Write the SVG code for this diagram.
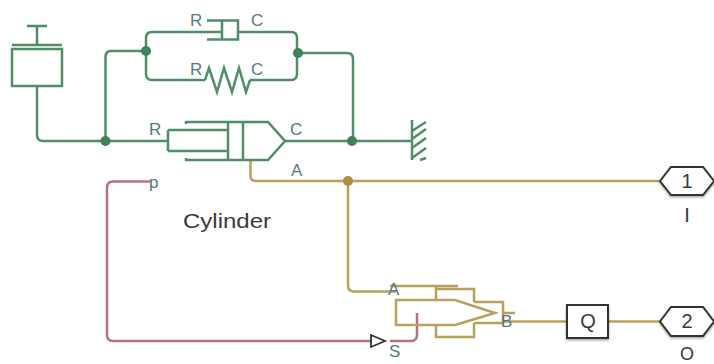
<svg xmlns="http://www.w3.org/2000/svg" width="714" height="364" viewBox="0 0 714 364">
<defs><filter id="s" x="-20%" y="-20%" width="140%" height="150%"><feDropShadow dx="0" dy="1.500" stdDeviation="1.200" flood-color="#000" flood-opacity="0.350"/></filter></defs>
<style>
text{font-family:"Liberation Sans",Arial,sans-serif}
.m{fill:none;stroke:#4f8f68;stroke-width:2.500}
.g{fill:none;stroke:#b9a05c;stroke-width:2.500}
.p{fill:none;stroke:#b5747f;stroke-width:2.500}
.k{fill:#fff;stroke:#333;stroke-width:2;filter:url(#s)}
.l{font-size:17px;fill:#5a7880}
.t{font-size:20px;fill:#3a3a3a}
.dm{fill:#3f8259}
.dg{fill:#ab8f42}
</style>
<rect width="714" height="364" fill="#fff"/>
<g id="connectors">
<path class="m" d="M37 87V135Q37 141 43 141H168"/>
<path class="m" d="M105.500 141V57Q105.500 51 111 51H146"/>
<path class="m" d="M222 32H152Q146 32 146 38V74Q146 80 152 80H205"/>
<path class="m" d="M238 32H291Q297 32 297 38V74Q297 80 291 80H250"/>
<path class="m" d="M297 53H347Q353 53 353 59V141"/>
<path class="m" d="M285 141H412"/>
<path class="g" d="M250.500 161V176Q250.500 181 256 181H660"/>
<path class="g" d="M348 181V286Q348 291.500 354 291.500H396"/>
<path class="g" d="M503 321.500H567"/>
<path class="g" d="M608 321.500H660"/>
<path class="p" d="M150 181.500H113Q107 181.500 107 188V335Q107 341 113 341H371"/>
<path class="p" d="M390 341H411Q417 341 417 335V313"/>
<circle class="dm" cx="105.500" cy="141" r="5"/>
<circle class="dm" cx="146" cy="51" r="5"/>
<circle class="dm" cx="298" cy="53" r="5"/>
<circle class="dm" cx="352" cy="141" r="5"/>
<circle class="dg" cx="348" cy="181" r="5"/>
</g>
<g id="reservoir">
<path class="m" d="M27 26H47M37 26V45M12 45H62M12 49H62V86H12Z"/>
</g>
<g id="damper">
<path class="m" d="M207 20.500H238V39.500H207M222 20.500V39.500"/>
<text class="l" x="190" y="26">R</text>
<text class="l" x="251" y="26">C</text>
</g>
<g id="spring">
<path class="m" d="M205 80L209 68L217 92L224 68L232 92L239 68L246 92L250 80"/>
<text class="l" x="190" y="75">R</text>
<text class="l" x="251" y="75">C</text>
</g>
<g id="cylinder">
<path class="m" d="M186 124V122H268L285 141L268 160H186V158M168 130H228M168 151H228M168 130V151M228 122V160M243 122V160"/>
<text class="l" x="149" y="135">R</text>
<text class="l" x="290" y="135">C</text>
<text class="l" x="291" y="176">A</text>
<text class="l" x="149" y="188">p</text>
<text x="183" y="228" font-size="21" fill="#3a3a3a" textLength="88" lengthAdjust="spacingAndGlyphs">Cylinder</text>
</g>
<g id="ground">
<path class="m" d="M412 120V160"/>
<path class="m" d="M412 131L426 122M412 139L426 129M412 148L426 138M412 158L426 148M420 160L426 158" stroke-width="3"/>
</g>
<g id="valve">
<path class="g" d="M390 286H458M436 286V300M436 289H474V302M396 300H455L495 313L455 325H396ZM436 325V337H474V323M474 302H503V323H474M503 313H515"/>
<path d="M371 335L385 341L371 347Z" fill="#fff" stroke="#333" stroke-width="1.800"/>
<text class="l" x="388" y="295">A</text>
<text class="l" x="501" y="327">B</text>
<text class="l" x="389" y="357">S</text>
</g>
<g id="q">
<rect class="k" x="567" y="305" width="41" height="33"/>
<text class="t" x="588" y="328" text-anchor="middle">Q</text>
</g>
<g id="port1">
<path class="k" d="M660 181L671 167H703L714 181L703 195H671Z"/>
<text class="t" x="687" y="188" text-anchor="middle">1</text>
<text class="t" x="687" y="222" text-anchor="middle">I</text>
</g>
<g id="port2">
<path class="k" d="M660 321.500L671 307H703L714 321.500L703 336H671Z"/>
<text class="t" x="687" y="328" text-anchor="middle">2</text>
<text x="687" y="360" font-size="18" fill="#3a3a3a" text-anchor="middle">O</text>
</g>
</svg>
